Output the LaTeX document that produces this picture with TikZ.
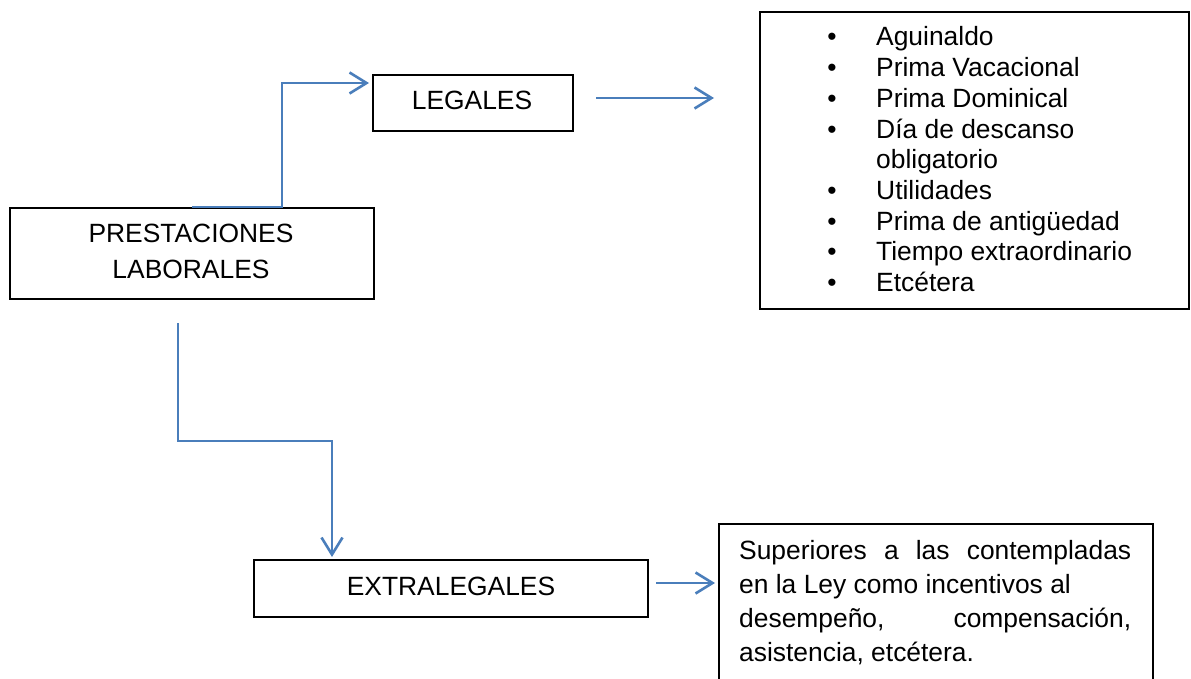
\documentclass[tikz,border=0pt]{standalone}
\usepackage{fontspec}
\setmainfont{Liberation Sans}
\usetikzlibrary{arrows.meta,calc}
\definecolor{conncol}{HTML}{4A7EBB}
\begin{document}
\begin{tikzpicture}[x=1pt,y=-1pt,
  box/.style={draw=black,line width=2pt,inner sep=0pt,anchor=north west},
  lbl/.style={inner sep=0pt,anchor=base,font=\fontsize{26.4}{30}\selectfont},
  lblw/.style={lbl,anchor=base west},
  connector/.style={draw=conncol,line width=2.6pt,-{Straight Barb[length=17pt,width=21pt]}}]
\useasboundingbox (0,0) rectangle (1191,679);
% boxes
\node[box,minimum width=364pt,minimum height=91pt] (pres) at (9,207) {};
\node[box,minimum width=200pt,minimum height=56pt] (leg) at (372,74) {};
\node[box,minimum width=429pt,minimum height=297pt] (list) at (759,11) {};
\node[box,minimum width=394pt,minimum height=57pt] (ext) at (253,559) {};
\begin{scope}
\clip (0,0) rectangle (1191,679);
\node[box,minimum width=434pt,minimum height=180pt] (sup) at (718,523) {};
\end{scope}
% box labels
\node[lbl] (t1) at (191,243) {PRESTACIONES};
\node[lbl] (t2) at (191,278) {LABORALES};
\node[lbl] (t3) at (472,110) {LEGALES};
\node[lbl] (t4) at (451,595) {EXTRALEGALES};
% list
\foreach \i/\t/\b in {0/Aguinaldo/1,1/Prima Vacacional/1,2/Prima Dominical/1,3/Día de descanso/1,4/obligatorio/0,5/Utilidades/1,6/Prima de antigüedad/1,7/Tiempo extraordinario/1,8/Etcétera/1}{
  \node[lblw] (li\i) at (876,46+30.7*\i) {\t};
  \ifnum\b=1 \node[lbl] (bu\i) at (832,46+30.7*\i) {•};\fi
}
% description
\node[lblw] (s1) at (739,559) {\makebox[392pt][s]{Superiores a las contempladas}};
\node[lblw] (s2) at (739,593) {en la Ley como incentivos al};
\node[lblw] (s3) at (739,627) {\makebox[392pt][s]{desempeño, compensación,}};
\node[lblw] (s4) at (739,661) {asistencia, etcétera.};
% connectors
\coordinate (c1a) at (282,83);
\coordinate (c1b) at (369,83);
\draw[connector] (pres.north) -| (c1a) -- (c1b);
\coordinate (c2a) at (596,98);
\coordinate (c2b) at (714,98);
\draw[connector] (c2a) -- (c2b);
\coordinate (c3a) at (178,323);
\coordinate (c3b) at (332,441);
\coordinate (c3c) at (332,557);
\draw[connector] (c3a) |- (c3b) -- (c3c);
\coordinate (c4a) at (656,583);
\coordinate (c4b) at (715,583);
\draw[connector] (c4a) -- (c4b);
\end{tikzpicture}
\end{document}
